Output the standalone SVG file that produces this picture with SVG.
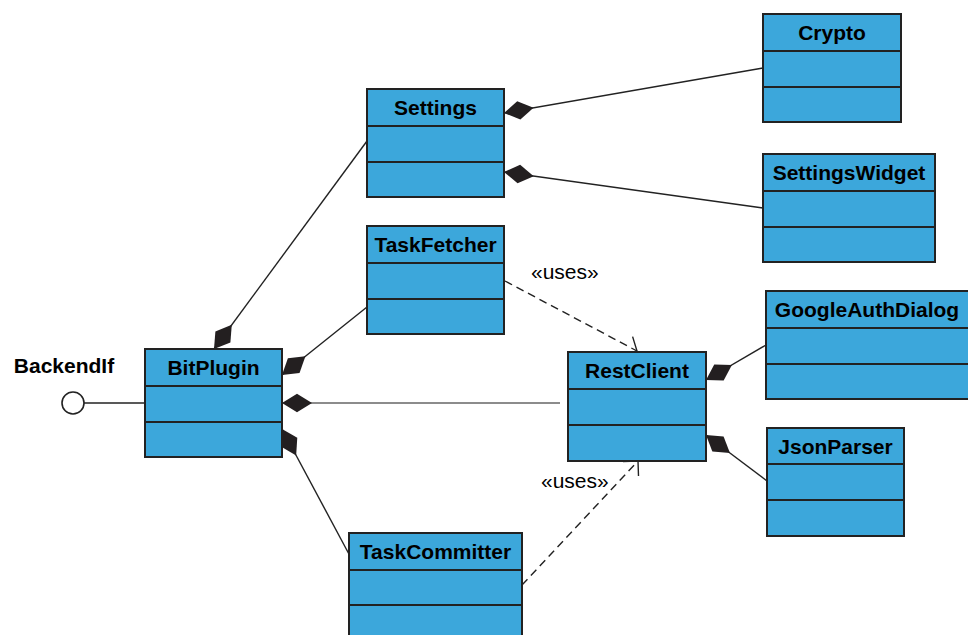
<svg xmlns="http://www.w3.org/2000/svg" width="968" height="635" viewBox="0 0 968 635">
  <style>
    .box { fill: #3ca7db; stroke: #222; stroke-width: 2; }
    .div { stroke: #222; stroke-width: 2; }
    .title { font-family: "Liberation Sans", Arial, sans-serif; font-weight: bold; font-size: 21px; fill: #000; text-anchor: middle; }
    .label { font-family: "Liberation Sans", Arial, sans-serif; font-size: 21px; fill: #000; }
    .assoc { stroke: #222; stroke-width: 1.4; fill: none; marker-start: url(#diamond); }
    .dep { stroke: #222; stroke-width: 1.4; fill: none; stroke-dasharray: 8 5; marker-end: url(#open); }
  </style>
  <defs>
    <!-- filled composition diamond, tip at the whole's edge -->
    <marker id="diamond" markerUnits="userSpaceOnUse" markerWidth="30" markerHeight="20" refX="0" refY="9" orient="auto" viewBox="0 0 29 18" overflow="visible">
      <path d="M0,9 L14.5,0 L29,9 L14.5,18 Z" fill="#231f20"/>
    </marker>
    <!-- open arrowhead for dependencies -->
    <marker id="open" markerUnits="userSpaceOnUse" markerWidth="24" markerHeight="24" refX="0" refY="0" orient="auto" viewBox="-12 -12 24 24" overflow="visible">
      <path d="M-10.6,-10.6 L0,0 L-10.6,10.6" fill="none" stroke="#222" stroke-width="1.4"/>
    </marker>
  </defs>

  <!-- connectors -->
  <g id="connectors">
    <path class="assoc" d="M214,349 L367,141"/>
    <path class="assoc" d="M282,375 L367,307"/>
    <path class="assoc" d="M282,403 L560,403" style="stroke:#666"/>
    <path class="assoc" d="M282,429 L350,556"/>
    <path class="assoc" d="M504,113 L763,68"/>
    <path class="assoc" d="M504,172 L763,208"/>
    <path class="assoc" d="M706,380 L766,345"/>
    <path class="assoc" d="M706,435 L767,481"/>
    <path class="dep" d="M505,281 L637,351"/>
    <path class="dep" d="M522,585 L638,461"/>
    <text class="label" x="531" y="279">«uses»</text>
    <text class="label" x="541" y="488">«uses»</text>
  </g>

  <!-- provided interface -->
  <g id="BackendIf">
    <line x1="84" y1="403" x2="145" y2="403" stroke="#222" stroke-width="1.6"/>
    <circle cx="73" cy="403" r="11" fill="#fff" stroke="#222" stroke-width="1.6"/>
    <text class="title" x="64" y="373">BackendIf</text>
  </g>

  <g id="BitPlugin">
    <rect class="box" x="145" y="349" width="137" height="108"/>
    <line class="div" x1="145" y1="386" x2="282" y2="386"/>
    <line class="div" x1="145" y1="422" x2="282" y2="422"/>
    <text class="title" x="213.5" y="375">BitPlugin</text>
  </g>

  <g id="Settings">
    <rect class="box" x="367" y="89" width="137" height="108"/>
    <line class="div" x1="367" y1="126" x2="504" y2="126"/>
    <line class="div" x1="367" y1="162" x2="504" y2="162"/>
    <text class="title" x="435.5" y="115">Settings</text>
  </g>

  <g id="TaskFetcher">
    <rect class="box" x="367" y="226" width="137" height="108"/>
    <line class="div" x1="367" y1="263" x2="504" y2="263"/>
    <line class="div" x1="367" y1="299" x2="504" y2="299"/>
    <text class="title" x="435.5" y="252">TaskFetcher</text>
  </g>

  <g id="TaskCommitter">
    <rect class="box" x="349" y="533" width="173" height="110"/>
    <line class="div" x1="349" y1="570" x2="522" y2="570"/>
    <line class="div" x1="349" y1="605" x2="522" y2="605"/>
    <text class="title" x="435.5" y="559">TaskCommitter</text>
  </g>

  <g id="RestClient">
    <rect class="box" x="568" y="352" width="138" height="109"/>
    <line class="div" x1="568" y1="389" x2="706" y2="389"/>
    <line class="div" x1="568" y1="425" x2="706" y2="425"/>
    <text class="title" x="637" y="378">RestClient</text>
  </g>

  <g id="Crypto">
    <rect class="box" x="763" y="14" width="138" height="108"/>
    <line class="div" x1="763" y1="51" x2="901" y2="51"/>
    <line class="div" x1="763" y1="87" x2="901" y2="87"/>
    <text class="title" x="832" y="40">Crypto</text>
  </g>

  <g id="SettingsWidget">
    <rect class="box" x="763" y="154" width="172" height="108"/>
    <line class="div" x1="763" y1="191" x2="935" y2="191"/>
    <line class="div" x1="763" y1="227" x2="935" y2="227"/>
    <text class="title" x="849" y="180">SettingsWidget</text>
  </g>

  <g id="GoogleAuthDialog">
    <rect class="box" x="766" y="291" width="210" height="108"/>
    <line class="div" x1="766" y1="328" x2="976" y2="328"/>
    <line class="div" x1="766" y1="364" x2="976" y2="364"/>
    <text class="title" x="867" y="317">GoogleAuthDialog</text>
  </g>

  <g id="JsonParser">
    <rect class="box" x="767" y="428" width="137" height="108"/>
    <line class="div" x1="767" y1="464" x2="904" y2="464"/>
    <line class="div" x1="767" y1="500" x2="904" y2="500"/>
    <text class="title" x="835.5" y="454">JsonParser</text>
  </g>
</svg>
